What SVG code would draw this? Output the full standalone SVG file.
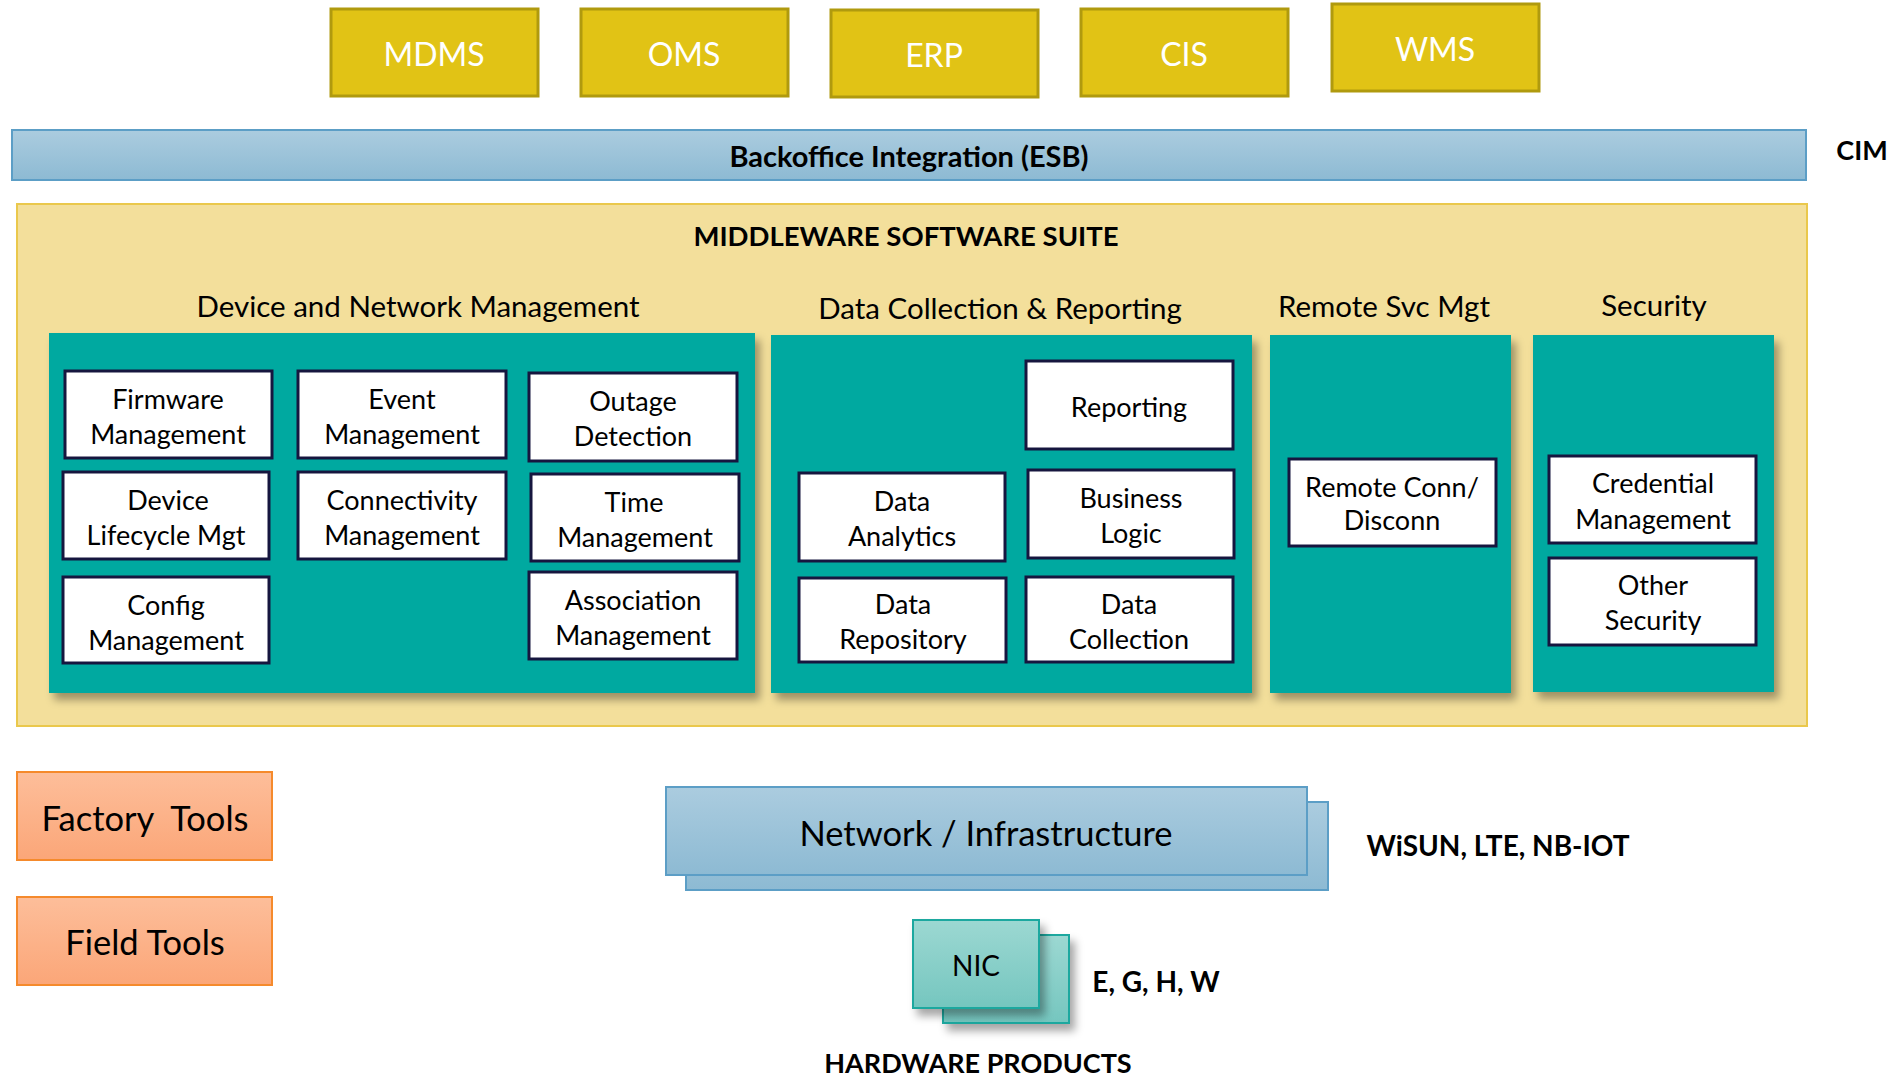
<svg xmlns="http://www.w3.org/2000/svg" width="1900" height="1079" viewBox="0 0 1900 1079">
<style>
text{font-family:Lato,"Open Sans","DejaVu Sans",sans-serif;text-anchor:middle;dominant-baseline:central;fill:#000}
.sys rect{fill:#E1C315;stroke:#B09A0E;stroke-width:3}
.sys text{fill:#fff;font-size:32px}
.mod rect{fill:#fff;stroke:#16163F;stroke-width:3}
.mod text{font-size:27px}
.panel{fill:#00A9A0;filter:url(#sh)}
.hdr{font-size:29.5px}
.b{font-weight:bold}
.tool rect{fill:url(#gOr);stroke:#F58A2C;stroke-width:2}
.tool text{font-size:34.5px}
</style>
<defs>
<linearGradient id="gBlue" x1="0" y1="0" x2="0" y2="1"><stop offset="0" stop-color="#ABCCDF"/><stop offset="1" stop-color="#8DBAD3"/></linearGradient>
<linearGradient id="gOr" x1="0" y1="0" x2="0" y2="1"><stop offset="0" stop-color="#FDBE9A"/><stop offset="1" stop-color="#FBA678"/></linearGradient>
<linearGradient id="gTeal" x1="0" y1="0" x2="0" y2="1"><stop offset="0" stop-color="#9CD8D2"/><stop offset="1" stop-color="#75C6BF"/></linearGradient>
<filter id="sh" x="-10%" y="-10%" width="130%" height="130%"><feDropShadow dx="5" dy="7" stdDeviation="4" flood-color="#000" flood-opacity="0.35"/></filter>
</defs>

<g id="mdms" class="sys"><rect x="331" y="9" width="207" height="87"/><text x="434" y="53">MDMS</text></g>
<g id="oms" class="sys"><rect x="581" y="9" width="207" height="87"/><text x="684" y="53">OMS</text></g>
<g id="erp" class="sys"><rect x="831" y="10" width="207" height="87"/><text x="934" y="54">ERP</text></g>
<g id="cis" class="sys"><rect x="1081" y="9" width="207" height="87"/><text x="1184" y="53">CIS</text></g>
<g id="wms" class="sys"><rect x="1332" y="4" width="207" height="87"/><text x="1435" y="48">WMS</text></g>

<g id="esb"><rect x="12" y="130" width="1794" height="50" fill="url(#gBlue)" stroke="#5C9EC6" stroke-width="2"/><text class="b" x="909" y="155" font-size="29">Backoffice Integration (ESB)</text></g>
<text class="b" x="1862" y="149" font-size="27">CIM</text>

<g id="middleware">
<rect x="17" y="204" width="1790" height="522" fill="#F3DF9B" stroke="#EAC84C" stroke-width="2"/>
<text class="b" x="906" y="235" font-size="27.5">MIDDLEWARE SOFTWARE SUITE</text>
<text class="hdr" x="418" y="305">Device and Network Management</text>
<text class="hdr" x="1000" y="307">Data Collection &amp; Reporting</text>
<text class="hdr" x="1384" y="305">Remote Svc Mgt</text>
<text class="hdr" x="1654" y="304">Security</text>
<rect class="panel" x="49" y="333" width="706" height="360"/>
<rect class="panel" x="771" y="335" width="481" height="358"/>
<rect class="panel" x="1270" y="335" width="241" height="358"/>
<rect class="panel" x="1533" y="335" width="241" height="357"/>
</g>

<g id="firmware" class="mod"><rect x="65" y="371" width="207" height="87"/><text x="168" y="398">Firmware</text><text x="168" y="433">Management</text></g>
<g id="event" class="mod"><rect x="298" y="371" width="208" height="87"/><text x="402" y="398">Event</text><text x="402" y="433">Management</text></g>
<g id="outage" class="mod"><rect x="529" y="373" width="208" height="88"/><text x="633" y="400">Outage</text><text x="633" y="435">Detection</text></g>
<g id="lifecycle" class="mod"><rect x="63" y="472" width="206" height="87"/><text x="168" y="499">Device</text><text x="166" y="534">Lifecycle Mgt</text></g>
<g id="connectivity" class="mod"><rect x="298" y="472" width="208" height="87"/><text x="402" y="499">Connectivity</text><text x="402" y="534">Management</text></g>
<g id="time" class="mod"><rect x="531" y="474" width="208" height="87"/><text x="634" y="501">Time</text><text x="635" y="536">Management</text></g>
<g id="config" class="mod"><rect x="63" y="577" width="206" height="86"/><text x="166" y="604">Config</text><text x="166" y="639">Management</text></g>
<g id="association" class="mod"><rect x="529" y="572" width="208" height="87"/><text x="633" y="599">Association</text><text x="633" y="634">Management</text></g>

<g id="reporting" class="mod"><rect x="1026" y="361" width="207" height="88"/><text x="1129" y="406">Reporting</text></g>
<g id="analytics" class="mod"><rect x="799" y="473" width="206" height="88"/><text x="902" y="500">Data</text><text x="902" y="535">Analytics</text></g>
<g id="business" class="mod"><rect x="1028" y="470" width="206" height="88"/><text x="1131" y="497">Business</text><text x="1131" y="532">Logic</text></g>
<g id="repository" class="mod"><rect x="799" y="578" width="207" height="84"/><text x="903" y="603">Data</text><text x="903" y="638">Repository</text></g>
<g id="collection" class="mod"><rect x="1026" y="577" width="207" height="85"/><text x="1129" y="603">Data</text><text x="1129" y="638">Collection</text></g>

<g id="remote" class="mod"><rect x="1289" y="459" width="207" height="87"/><text x="1392" y="486">Remote Conn/</text><text x="1392" y="519">Disconn</text></g>
<g id="credential" class="mod"><rect x="1549" y="456" width="207" height="87"/><text x="1653" y="482">Credential</text><text x="1653" y="518">Management</text></g>
<g id="other" class="mod"><rect x="1549" y="558" width="207" height="87"/><text x="1653" y="584">Other</text><text x="1653" y="619">Security</text></g>

<g id="factory" class="tool"><rect x="17" y="772" width="255" height="88"/><text x="145" y="817" xml:space="preserve">Factory  Tools</text></g>
<g id="field" class="tool"><rect x="17" y="897" width="255" height="88"/><text x="145" y="941">Field Tools</text></g>

<g id="network">
<rect x="686" y="802" width="642" height="88" fill="url(#gBlue)" stroke="#5C9EC6" stroke-width="2"/>
<rect x="666" y="787" width="641" height="88" fill="url(#gBlue)" stroke="#5C9EC6" stroke-width="2"/>
<text x="986" y="832" font-size="34.5">Network / Infrastructure</text>
</g>
<text class="b" x="1498" y="845" font-size="28">WiSUN, LTE, NB-IOT</text>

<g id="nic">
<rect x="943" y="935" width="126" height="88" fill="url(#gTeal)" stroke="#1AA89F" stroke-width="2" filter="url(#sh)"/>
<rect x="913" y="920" width="126" height="88" fill="url(#gTeal)" stroke="#1AA89F" stroke-width="2" filter="url(#sh)"/>
<text x="976" y="965" font-size="28">NIC</text>
</g>
<text class="b" x="1156" y="981" font-size="28">E, G, H, W</text>
<text class="b" x="978" y="1062" font-size="27">HARDWARE PRODUCTS</text>
</svg>
